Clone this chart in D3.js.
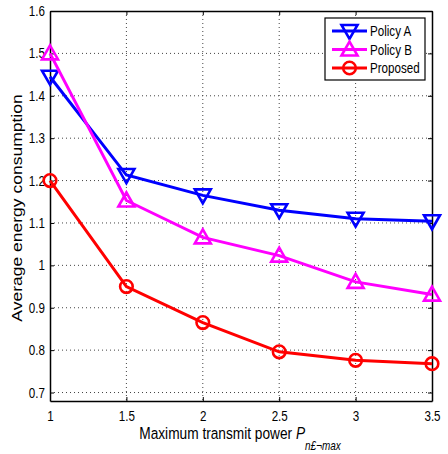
<!DOCTYPE html>
<html lang="en">
<head>
  <meta charset="UTF-8">
  <title>Average energy consumption</title>
  <script src="https://d3js.org/d3.v7.min.js"></script>
  <style>
    body { margin: 0; background: #fff; }
    svg { display: block; font-family: "Liberation Sans", Arial, sans-serif; }
    .tick text { font-size: 14px; fill: #000; }
    .grid line { stroke: #444; stroke-dasharray: 1,3; stroke-width: 1; }
  </style>
</head>
<body>
  <svg id="chart" width="448" height="454"></svg>

  <script>
    // x values: maximum transmit power
    const powers = [1, 1.5, 2, 2.5, 3, 3.5];
    const policyA = [1.445, 1.213, 1.165, 1.130, 1.110, 1.104];
    const policyB = [1.500, 1.153, 1.066, 1.023, 0.961, 0.931];
    const proposed = [1.200, 0.950, 0.865, 0.796, 0.776, 0.768];
    const xTicks = [1, 1.5, 2, 2.5, 3, 3.5];
    const yTicks = [0.7, 0.8, 0.9, 1, 1.1, 1.2, 1.3, 1.4, 1.5, 1.6];
    const seriesNames = ['Policy A', 'Policy B', 'Proposed'];

    const margin = { left: 50, right: 16, top: 11, bottom: 53 };
    const width = 448, height = 454;
    const squeeze = 0.83; // the original figure is narrower than tall
    const svg = d3.select('#chart');

    const x = d3.scaleLinear().domain([1, 3.5]).range([margin.left, width - margin.right]);
    const y = d3.scaleLinear().domain([0.68, 1.6]).range([height - margin.bottom, margin.top]);

    // dotted grid
    const grid = svg.append('g').attr('class', 'grid');
    grid.selectAll('.gx').data(xTicks.slice(1, -1)).enter().append('line')
      .attr('x1', d => x(d)).attr('x2', d => x(d))
      .attr('y1', y.range()[1]).attr('y2', y.range()[0]);
    grid.selectAll('.gy').data(yTicks.slice(0, -1)).enter().append('line')
      .attr('y1', d => y(d)).attr('y2', d => y(d))
      .attr('x1', x.range()[0]).attr('x2', x.range()[1]);

    // axes, ticks point inward like MATLAB
    const fmt = d => String(d);
    const styleAxis = g => {
      g.select('.domain').attr('stroke', '#000').attr('stroke-width', 1.5);
      g.selectAll('.tick line').attr('stroke', '#000');
      g.selectAll('.tick text').attr('transform', `scale(${squeeze},1)`);
    };
    svg.append('g')
      .attr('transform', `translate(0,${y.range()[0]})`)
      .call(d3.axisBottom(x).tickValues(xTicks).tickFormat(fmt).tickSizeInner(-4).tickSizeOuter(0).tickPadding(10))
      .call(styleAxis);
    svg.append('g')
      .attr('transform', `translate(${x.range()[0]},0)`)
      .call(d3.axisLeft(y).tickValues(yTicks).tickFormat(fmt).tickSizeInner(-4).tickSizeOuter(0).tickPadding(6))
      .call(styleAxis);
    svg.append('g')
      .attr('transform', `translate(0,${y.range()[1]})`)
      .call(d3.axisTop(x).tickValues(xTicks).tickFormat('').tickSizeInner(-4).tickSizeOuter(0))
      .call(styleAxis);
    svg.append('g')
      .attr('transform', `translate(${x.range()[1]},0)`)
      .call(d3.axisRight(y).tickValues(yTicks).tickFormat('').tickSizeInner(-4).tickSizeOuter(0))
      .call(styleAxis);

    const series = [
      { name: seriesNames[0], values: policyA, color: '#0000ff', marker: 'down' },
      { name: seriesNames[1], values: policyB, color: '#ff00ff', marker: 'up' },
      { name: seriesNames[2], values: proposed, color: '#ff0000', marker: 'circle' }
    ];

    function drawMarker(g, type, color) {
      if (type === 'circle') {
        g.append('circle').attr('r', 6.3);
      } else {
        const s = 8;
        const pts = type === 'down'
          ? [[-s, -s * 0.75], [s, -s * 0.75], [0, s]]
          : [[-s, s * 0.75], [s, s * 0.75], [0, -s]];
        g.append('path').attr('d', 'M' + pts.map(p => p.join(',')).join('L') + 'Z');
      }
      g.selectAll('*').attr('fill', 'none').attr('stroke', color).attr('stroke-width', 2.6);
    }

    const line = d3.line().x((d, i) => x(powers[i])).y(d => y(d));

    series.forEach(s => {
      svg.append('path')
        .datum(s.values)
        .attr('d', line)
        .attr('fill', 'none')
        .attr('stroke', s.color)
        .attr('stroke-width', 3);
      s.values.forEach((v, i) => {
        const g = svg.append('g').attr('transform', `translate(${x(powers[i])},${y(v)})`);
        drawMarker(g, s.marker, s.color);
      });
    });

    // legend
    const lg = svg.append('g').attr('transform', 'translate(325,18)');
    lg.append('rect').attr('width', 100).attr('height', 62)
      .attr('fill', '#fff').attr('stroke', '#000').attr('stroke-width', 1.2);
    series.forEach((s, i) => {
      const row = lg.append('g').attr('transform', `translate(0,${13 + i * 18.5})`);
      row.append('line').attr('x1', 7).attr('x2', 42).attr('stroke', s.color).attr('stroke-width', 3);
      const m = row.append('g').attr('transform', 'translate(24.5,0)');
      drawMarker(m, s.marker, s.color);
      row.append('text').attr('transform', `translate(45,5) scale(${squeeze},1)`)
        .attr('font-size', 14).attr('fill', '#000').text(s.name);
    });

    // axis labels
    const xl = svg.append('text')
      .attr('transform', `translate(240,439) scale(${squeeze},1)`)
      .attr('text-anchor', 'middle')
      .attr('font-size', 16.5)
      .attr('fill', '#000');
    xl.append('tspan').text('Maximum transmit power ');
    xl.append('tspan').attr('font-style', 'italic').text('P');
    xl.append('tspan').attr('font-style', 'italic').attr('font-size', 12).attr('dy', 11).text('n£¬max');

    svg.append('text')
      .attr('transform', `translate(22,${(y.range()[0] + y.range()[1]) / 2 + 2}) rotate(-90) scale(1,${squeeze})`)
      .attr('text-anchor', 'middle')
      .attr('font-size', 17.5)
      .attr('fill', '#000')
      .text('Average energy consumption');
  </script>
</body>
</html>
